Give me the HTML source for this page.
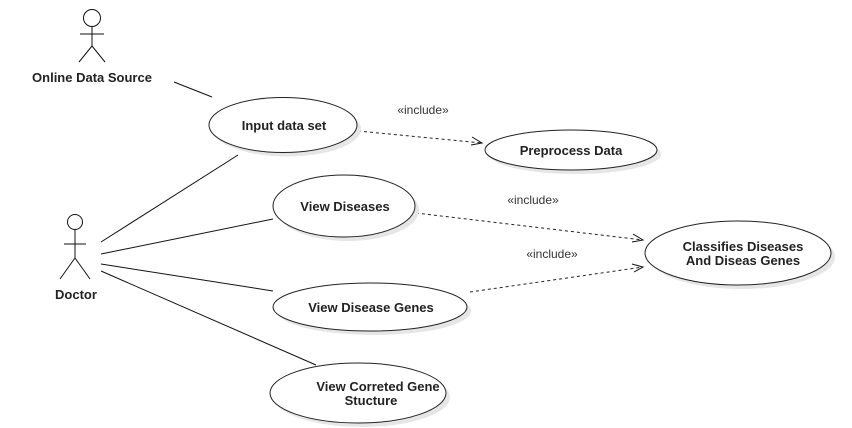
<!DOCTYPE html>
<html><head><meta charset="utf-8"><style>
html,body{margin:0;padding:0;background:#fff;}
svg{display:block;}
.t{font-family:"Liberation Sans",sans-serif;font-size:13px;font-weight:bold;fill:#222;text-anchor:middle;}
.i{font-family:"Liberation Sans",sans-serif;font-size:12px;fill:#333;text-anchor:middle;}
.e{fill:#fff;stroke:#222;stroke-width:1;}
.s{fill:#e6e6e6;stroke:none;}
.l{stroke:#111;stroke-width:1;fill:none;}
.d{stroke:#222;stroke-width:1;fill:none;stroke-dasharray:3,3;}
</style></head><body>
<svg width="852" height="428" viewBox="0 0 852 428">
<g>
<circle cx="92" cy="18" r="8.5" class="l"/>
<line x1="92" y1="26.5" x2="92" y2="46" class="l"/>
<line x1="80" y1="34" x2="104" y2="34" class="l"/>
<line x1="92" y1="46" x2="79" y2="62" class="l"/>
<line x1="92" y1="46" x2="105" y2="62" class="l"/>
<text x="92" y="82" class="t">Online Data Source</text>
</g>
<g>
<circle cx="75" cy="222" r="7.5" class="l"/>
<line x1="75" y1="229.5" x2="75" y2="258" class="l"/>
<line x1="64" y1="244" x2="86" y2="244" class="l"/>
<line x1="75" y1="258" x2="60" y2="279" class="l"/>
<line x1="75" y1="258" x2="90" y2="279" class="l"/>
<text x="76" y="299" class="t">Doctor</text>
</g>
<g>
<line x1="174" y1="82" x2="212" y2="97" class="l"/>
<line x1="101" y1="242" x2="238" y2="155" class="l"/>
<line x1="101" y1="254" x2="273" y2="219" class="l"/>
<line x1="101" y1="264" x2="273" y2="291" class="l"/>
<line x1="101" y1="271" x2="316" y2="365" class="l"/>
</g>
<g>
<line x1="358" y1="131" x2="482" y2="143" class="d"/>
<polyline points="472,137 482,143 471,145" class="l"/>
<text x="423" y="114" class="i">«include»</text>
<line x1="416" y1="213" x2="643" y2="240" class="d"/>
<polyline points="633,234 643,240 632,242" class="l"/>
<text x="533" y="204" class="i">«include»</text>
<line x1="470" y1="292" x2="643" y2="267" class="d"/>
<polyline points="632,264 643,267 634,272" class="l"/>
<text x="552" y="258" class="i">«include»</text>
</g>
<g>
<ellipse cx="287" cy="129" rx="74" ry="27.5" class="s"/>
<ellipse cx="283" cy="125" rx="74" ry="27.5" class="e"/>
<text x="284" y="130" class="t">Input data set</text>
</g>
<g>
<ellipse cx="575" cy="154" rx="86" ry="20" class="s"/>
<ellipse cx="571" cy="150" rx="86" ry="20" class="e"/>
<text x="571" y="155" class="t">Preprocess Data</text>
</g>
<g>
<ellipse cx="348" cy="210" rx="71" ry="31" class="s"/>
<ellipse cx="344" cy="206" rx="71" ry="31" class="e"/>
<text x="345" y="211" class="t">View Diseases</text>
</g>
<g>
<ellipse cx="742" cy="257" rx="93" ry="32" class="s"/>
<ellipse cx="738" cy="253" rx="93" ry="32" class="e"/>
<text x="743" y="251" class="t">Classifies Diseases</text>
<text x="743" y="265" class="t">And Diseas Genes</text>
</g>
<g>
<ellipse cx="374" cy="311" rx="97" ry="24" class="s"/>
<ellipse cx="370" cy="307" rx="97" ry="24" class="e"/>
<text x="371" y="312" class="t">View Disease Genes</text>
</g>
<g>
<ellipse cx="362" cy="397" rx="88" ry="30" class="s"/>
<ellipse cx="358" cy="393" rx="88" ry="30" class="e"/>
<text x="378" y="391" class="t">View Correted Gene</text>
<text x="371" y="405" class="t">Stucture</text>
</g>
</svg>
</body></html>
